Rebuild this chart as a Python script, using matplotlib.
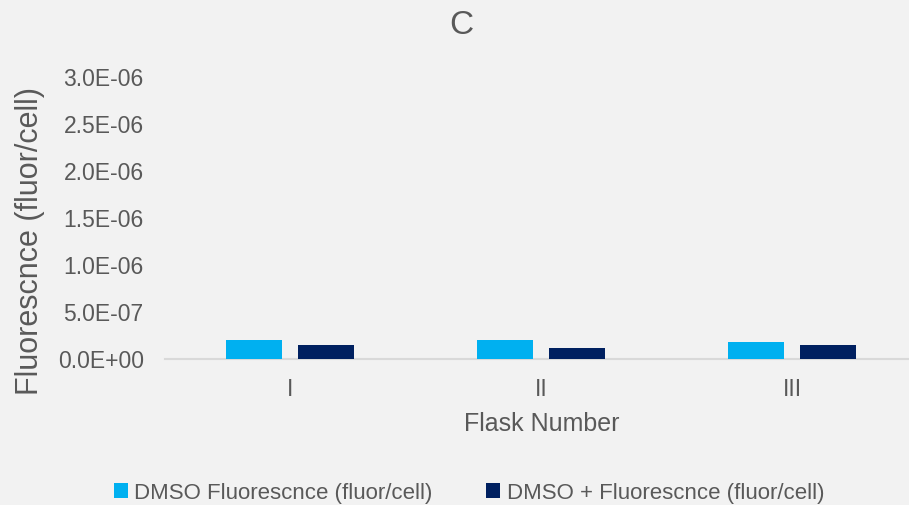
import matplotlib
matplotlib.use("Agg")
import matplotlib.pyplot as plt
import numpy as np

categories = ["I", "II", "III"]
dmso = [2.0e-7, 2.0e-7, 1.71e-7]
dmso_plus = [1.47e-7, 1.16e-7, 1.47e-7]
y_ticks = [0, 5e-7, 1e-6, 1.5e-6, 2e-6, 2.5e-6, 3e-6]
y_tick_labels = ["0.0E+00", "5.0E-07", "1.0E-06", "1.5E-06", "2.0E-06", "2.5E-06", "3.0E-06"]

plt.rcParams["font.family"] = ["Liberation Sans", "DejaVu Sans"]

bg = "#F2F2F2"
txt = "#595959"
c1 = "#00B0F0"
c2 = "#002060"

fig = plt.figure(figsize=(9.09, 5.05), dpi=100, facecolor=bg)
ax = fig.add_axes([164.5 / 909, 1 - 358.5 / 505, 753 / 909, 281.5 / 505])
ax.set_facecolor(bg)

x = np.arange(len(categories))
w = 0.223
gap = 0.064
ax.bar(x - (w + gap) / 2, dmso, w, color=c1, label="DMSO Fluorescnce (fluor/cell)", zorder=3)
ax.bar(x + (w + gap) / 2, dmso_plus, w, color=c2, label="DMSO + Fluorescnce (fluor/cell)", zorder=3)

ax.set_xlim(-0.5, len(categories) - 0.5)
ax.set_ylim(0, 3.0e-6)
ax.set_yticks(y_ticks)
ax.set_yticklabels(y_tick_labels)
ax.set_xticks(x)
ax.set_xticklabels(categories)

for s in ["top", "right", "left"]:
    ax.spines[s].set_visible(False)
ax.spines["bottom"].set_color("#D9D9D9")
ax.spines["bottom"].set_linewidth(1.5)
ax.tick_params(axis="both", length=0, labelsize=16.5, labelcolor=txt)
ax.tick_params(axis="y", pad=15)
ax.tick_params(axis="x", pad=14)

fig.text(461 / 909, 1 - 25 / 505, "C", ha="center", va="center", fontsize=24, color=txt)
fig.text(30 / 909, 1 - 241 / 505, "Fluorescnce (fluor/cell)", ha="center", va="center",
         rotation=90, fontsize=22, color=txt)
fig.text(542 / 909, 1 - 424 / 505, "Flask Number", ha="center", va="center", fontsize=18, color=txt)

fig.legend(loc="center", bbox_to_anchor=(469 / 909, 1 - 493 / 505), ncol=2, frameon=False,
           fontsize=16, handlelength=0.63, handleheight=0.63, handletextpad=0.3,
           columnspacing=2.4, labelcolor=txt)

fig.savefig("out.png", dpi=100, facecolor=bg)
